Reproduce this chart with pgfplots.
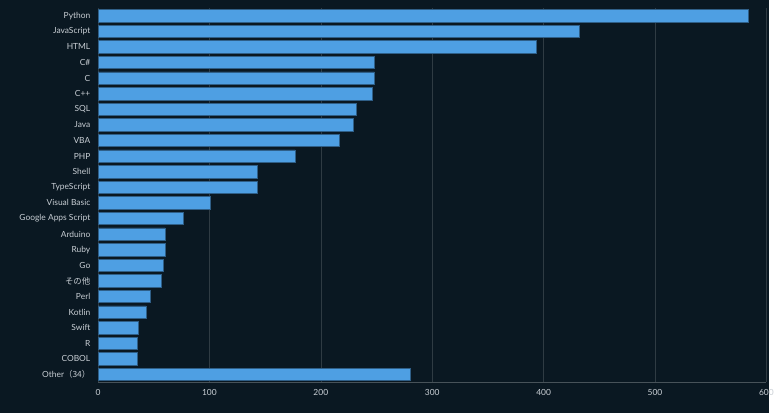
\documentclass[border=0pt]{standalone}
\usepackage{pgfplots}
\pgfplotsset{compat=1.18}
\usepackage{fontspec}
\setmainfont{Lato}
\newfontfamily\cjk{Noto Sans CJK JP}
\definecolor{bg}{HTML}{0A1822}
\definecolor{barc}{HTML}{4E9FE3}
\definecolor{txt}{HTML}{C8CED4}
\begin{document}
\begin{tikzpicture}
\fill[bg] (-99pt,-31pt) rectangle (678pt,386pt);
\begin{axis}[
  scale only axis, width=675pt, height=378pt,
  xbar, bar width=12.5pt,
  xmin=0, xmax=600, ymin=-0.5, ymax=23.5,
  y dir=reverse,
  ytick={0,...,23},
  yticklabels={Python,JavaScript,HTML,C\#,C,C++,SQL,Java,VBA,PHP,Shell,TypeScript,Visual Basic,Google Apps Script,Arduino,Ruby,Go,{\cjk その他},Perl,Kotlin,Swift,R,COBOL,{Other\cjk（34）}},
  xtick={0,100,...,600},
  xmajorgrids, grid style={color=white!15!bg, line width=0.6pt},
  axis line style={draw=none}, axis x line*=bottom,
  x axis line style={draw=white!25!bg},
  tick style={draw=none},
  ticklabel style={font=\fontsize{8.5}{10}\selectfont, text=txt},
  /pgf/number format/assume math mode=true,
  xticklabel style={yshift=-4pt},
]
\addplot[fill=barc, draw=barc!60!black, line width=0.6pt] coordinates {
(584,0)(432,1)(393,2)(248,3)(248,4)(246,5)(232,6)(229,7)(217,8)(177,9)(143,10)(143,11)(101,12)(77,13)(60,14)(60,15)(59,16)(57,17)(47,18)(43,19)(36,20)(35,21)(35,22)(280,23)};
\end{axis}
\end{tikzpicture}
\end{document}
